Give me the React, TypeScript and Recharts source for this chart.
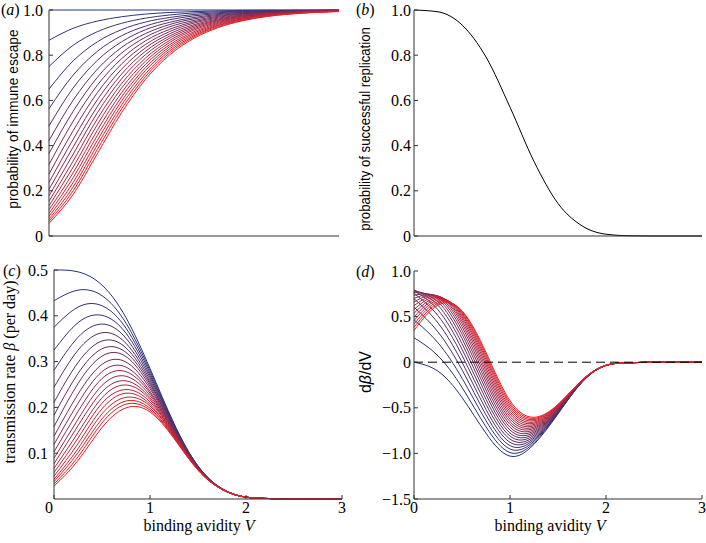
import React from 'react';
import { LineChart, Line, XAxis, YAxis, ReferenceLine } from 'recharts';

const avidity = [0, 0.25, 0.5, 0.75, 1, 1.25, 1.5, 1.75, 2, 2.25, 2.5, 3];

// (a) probability of immune escape, one row per curve (blue -> red)
const escapeCurves: number[][] = [
  [1, 1, 1, 1, 1, 1, 1, 1, 1, 1, 1, 1],
  [0.866, 0.919, 0.951, 0.970, 0.982, 0.989, 0.993, 0.996, 0.998, 0.999, 0.999, 1.0],
  [0.750, 0.844, 0.904, 0.941, 0.964, 0.978, 0.987, 0.992, 0.995, 0.997, 0.998, 0.999],
  [0.650, 0.775, 0.859, 0.913, 0.947, 0.967, 0.980, 0.988, 0.993, 0.996, 0.997, 0.999],
  [0.563, 0.712, 0.817, 0.886, 0.929, 0.957, 0.974, 0.984, 0.990, 0.994, 0.996, 0.999],
  [0.487, 0.655, 0.777, 0.859, 0.913, 0.946, 0.967, 0.980, 0.988, 0.993, 0.996, 0.998],
  [0.422, 0.601, 0.738, 0.834, 0.896, 0.936, 0.961, 0.976, 0.985, 0.991, 0.995, 0.998],
  [0.365, 0.552, 0.702, 0.809, 0.880, 0.926, 0.954, 0.972, 0.983, 0.990, 0.994, 0.998],
  [0.316, 0.508, 0.667, 0.784, 0.864, 0.915, 0.948, 0.968, 0.981, 0.988, 0.993, 0.997],
  [0.274, 0.466, 0.634, 0.761, 0.848, 0.905, 0.942, 0.964, 0.978, 0.987, 0.992, 0.997],
  [0.237, 0.428, 0.603, 0.738, 0.833, 0.895, 0.935, 0.960, 0.976, 0.985, 0.991, 0.997],
  [0.206, 0.394, 0.573, 0.716, 0.818, 0.885, 0.929, 0.956, 0.973, 0.984, 0.990, 0.996],
  [0.178, 0.362, 0.545, 0.695, 0.803, 0.876, 0.923, 0.953, 0.971, 0.982, 0.989, 0.996],
  [0.154, 0.332, 0.518, 0.674, 0.788, 0.866, 0.917, 0.949, 0.969, 0.981, 0.988, 0.996],
  [0.134, 0.305, 0.493, 0.654, 0.774, 0.857, 0.911, 0.945, 0.966, 0.979, 0.987, 0.995],
  [0.116, 0.280, 0.468, 0.634, 0.760, 0.847, 0.904, 0.941, 0.964, 0.978, 0.987, 0.995],
  [0.100, 0.258, 0.445, 0.615, 0.746, 0.838, 0.898, 0.937, 0.961, 0.976, 0.986, 0.995],
  [0.087, 0.237, 0.423, 0.597, 0.733, 0.829, 0.892, 0.933, 0.959, 0.975, 0.985, 0.994],
  [0.075, 0.217, 0.403, 0.579, 0.719, 0.820, 0.886, 0.930, 0.957, 0.974, 0.984, 0.994],
  [0.065, 0.200, 0.383, 0.562, 0.706, 0.811, 0.881, 0.926, 0.954, 0.972, 0.983, 0.994],
  [0.056, 0.184, 0.364, 0.545, 0.694, 0.802, 0.875, 0.922, 0.952, 0.971, 0.982, 0.993],
];

// (b) probability of successful replication
const replication = [1.0, 0.992, 0.934, 0.792, 0.57, 0.33, 0.144, 0.045, 0.008, 0.001, 0, 0];

// (c) transmission rate beta (per day)
const transmissionCurves: number[][] = [
  [0.500, 0.496, 0.467, 0.396, 0.285, 0.165, 0.072, 0.023, 0.004, 0.001, 0, 0],
  [0.433, 0.456, 0.444, 0.384, 0.280, 0.163, 0.072, 0.022, 0.004, 0.001, 0, 0],
  [0.375, 0.419, 0.422, 0.373, 0.275, 0.161, 0.071, 0.022, 0.004, 0.001, 0, 0],
  [0.325, 0.385, 0.401, 0.362, 0.270, 0.160, 0.071, 0.022, 0.004, 0.001, 0, 0],
  [0.281, 0.353, 0.382, 0.351, 0.265, 0.158, 0.070, 0.022, 0.004, 0.001, 0, 0],
  [0.244, 0.325, 0.363, 0.340, 0.260, 0.156, 0.070, 0.022, 0.004, 0.001, 0, 0],
  [0.211, 0.298, 0.345, 0.330, 0.255, 0.154, 0.069, 0.022, 0.004, 0.001, 0, 0],
  [0.183, 0.274, 0.328, 0.320, 0.251, 0.153, 0.069, 0.022, 0.004, 0.001, 0, 0],
  [0.158, 0.252, 0.312, 0.311, 0.246, 0.151, 0.068, 0.022, 0.004, 0.001, 0, 0],
  [0.137, 0.229, 0.294, 0.299, 0.241, 0.149, 0.068, 0.022, 0.004, 0.001, 0, 0],
  [0.119, 0.209, 0.278, 0.288, 0.235, 0.148, 0.067, 0.022, 0.004, 0.001, 0, 0],
  [0.103, 0.191, 0.263, 0.278, 0.231, 0.146, 0.067, 0.022, 0.004, 0.001, 0, 0],
  [0.089, 0.174, 0.248, 0.268, 0.226, 0.145, 0.066, 0.021, 0.004, 0.001, 0, 0],
  [0.077, 0.160, 0.234, 0.258, 0.221, 0.143, 0.066, 0.021, 0.004, 0.001, 0, 0],
  [0.067, 0.145, 0.221, 0.249, 0.217, 0.141, 0.066, 0.021, 0.004, 0.001, 0, 0],
  [0.058, 0.133, 0.209, 0.239, 0.212, 0.140, 0.065, 0.021, 0.004, 0.001, 0, 0],
  [0.050, 0.121, 0.197, 0.231, 0.207, 0.138, 0.065, 0.021, 0.004, 0.001, 0, 0],
  [0.043, 0.110, 0.186, 0.222, 0.203, 0.137, 0.064, 0.021, 0.004, 0.001, 0, 0],
  [0.038, 0.101, 0.175, 0.214, 0.198, 0.135, 0.064, 0.021, 0.004, 0.001, 0, 0],
  [0.033, 0.092, 0.166, 0.207, 0.194, 0.134, 0.063, 0.021, 0.004, 0.001, 0, 0],
  [0.028, 0.084, 0.156, 0.199, 0.190, 0.132, 0.063, 0.021, 0.004, 0.001, 0, 0],
];

// (d) d beta / dV
const slopeCurves: number[][] = [
  [0.000, -0.099, -0.387, -0.780, -1.030, -0.900, -0.567, -0.220, -0.035, -0.005, -0.001, 0],
  [0.268, 0.070, -0.276, -0.709, -0.991, -0.883, -0.561, -0.219, -0.035, -0.005, -0.001, 0],
  [0.464, 0.213, -0.175, -0.642, -0.952, -0.866, -0.556, -0.218, -0.035, -0.005, -0.001, 0],
  [0.603, 0.332, -0.083, -0.578, -0.915, -0.849, -0.550, -0.216, -0.035, -0.005, -0.001, 0],
  [0.696, 0.430, 0.000, -0.518, -0.879, -0.833, -0.545, -0.215, -0.035, -0.005, -0.001, 0],
  [0.754, 0.510, 0.076, -0.460, -0.844, -0.817, -0.539, -0.214, -0.035, -0.005, -0.001, 0],
  [0.784, 0.574, 0.143, -0.406, -0.810, -0.801, -0.534, -0.213, -0.035, -0.005, -0.001, 0],
  [0.791, 0.624, 0.204, -0.354, -0.777, -0.785, -0.528, -0.211, -0.035, -0.005, -0.001, 0],
  [0.783, 0.662, 0.259, -0.305, -0.744, -0.770, -0.523, -0.210, -0.035, -0.005, -0.001, 0],
  [0.763, 0.690, 0.308, -0.259, -0.713, -0.755, -0.517, -0.209, -0.034, -0.005, -0.001, 0],
  [0.734, 0.709, 0.351, -0.215, -0.682, -0.740, -0.512, -0.208, -0.034, -0.005, -0.001, 0],
  [0.700, 0.721, 0.389, -0.174, -0.653, -0.725, -0.507, -0.207, -0.034, -0.005, -0.001, 0],
  [0.661, 0.726, 0.423, -0.135, -0.624, -0.711, -0.502, -0.205, -0.034, -0.005, -0.001, 0],
  [0.620, 0.725, 0.452, -0.098, -0.596, -0.697, -0.497, -0.204, -0.034, -0.005, -0.001, 0],
  [0.579, 0.719, 0.477, -0.063, -0.569, -0.683, -0.492, -0.203, -0.034, -0.005, -0.001, 0],
  [0.537, 0.710, 0.499, -0.030, -0.543, -0.669, -0.487, -0.202, -0.034, -0.005, -0.001, 0],
  [0.496, 0.698, 0.518, 0.001, -0.517, -0.656, -0.482, -0.201, -0.034, -0.005, -0.001, 0],
  [0.456, 0.683, 0.533, 0.030, -0.492, -0.642, -0.477, -0.200, -0.034, -0.005, -0.001, 0],
  [0.418, 0.665, 0.546, 0.057, -0.468, -0.629, -0.472, -0.198, -0.033, -0.005, -0.001, 0],
  [0.382, 0.646, 0.556, 0.083, -0.445, -0.616, -0.467, -0.197, -0.033, -0.005, -0.001, 0],
  [0.349, 0.626, 0.564, 0.107, -0.422, -0.604, -0.462, -0.196, -0.033, -0.005, -0.001, 0],
];

const xTicks = [0, 1, 2, 3];
const probTicks = [0, 0.2, 0.4, 0.6, 0.8, 1];
const rateTicks = [0.1, 0.2, 0.3, 0.4, 0.5];
const slopeTicks = [-1.5, -1, -0.5, 0, 0.5, 1];

const SERIF = "'Liberation Serif', 'Times New Roman', serif";
const SANS = "'Liberation Sans', Arial, sans-serif";
const AXIS = '#333';
const BLUE = [38, 52, 128];
const RED = [232, 32, 38];

function curveColor(k: number, n: number): string {
  const t = n > 1 ? k / (n - 1) : 0;
  const c = BLUE.map((b, i) => Math.round(b + (RED[i] - b) * t));
  return `rgb(${c.join(',')})`;
}

function toRows(curves: number[][]) {
  return avidity.map((v, i) => {
    const row: Record<string, number> = { v };
    curves.forEach((c, k) => {
      row[`k${k}`] = c[i];
    });
    return row;
  });
}

function formatTick(value: number): string {
  if (value === 0) return '0';
  const s = Math.abs(value).toFixed(1);
  return value < 0 ? `\u2212${s}` : s;
}

// x tick label; the "0" at the origin of panel (c) sits a little to the left
function AvidityTick({ x, y, payload, shiftZero }: any) {
  const dx = shiftZero && payload.value === 0 ? -5 : 0;
  return (
    <text x={x + dx} y={y} dy="0.71em" textAnchor="middle" fill="#000" fontSize={16} style={{ fontFamily: SERIF }}>
      {payload.value}
    </text>
  );
}

function ValueTick({ x, y, payload }: any) {
  return (
    <text x={x} y={y} dy="0.355em" textAnchor="end" fill="#000" fontSize={16} style={{ fontFamily: SERIF }}>
      {formatTick(payload.value)}
    </text>
  );
}

function curveLines(curves: number[][], type: 'monotone' | 'natural') {
  return curves.map((_, k) => (
    <Line
      key={k}
      dataKey={`k${k}`}
      type={type}
      stroke={curveColor(k, curves.length)}
      strokeWidth={1}
      dot={false}
      activeDot={false}
      isAnimationActive={false}
    />
  ));
}

const escapeRows = toRows(escapeCurves);
const replicationRows = toRows([replication]);
const transmissionRows = toRows(transmissionCurves);
const slopeRows = toRows(slopeCurves);

export default function App() {
  return (
    <div style={{ position: 'absolute', left: 0, top: 0, width: 706, height: 543, background: '#fff', fontFamily: SERIF }}>
      {/* (a) */}
      <div style={{ position: 'absolute', left: 0, top: 0 }}>
        <LineChart width={353} height={260} data={escapeRows} margin={{ top: 10, right: 14, left: 0, bottom: 0 }}>
          <XAxis type="number" dataKey="v" domain={[0, 3]} ticks={xTicks} interval={0} height={24}
            axisLine={{ stroke: AXIS }} tickLine={{ stroke: AXIS }} tickSize={-4} tick={false} />
          <YAxis type="number" domain={[0, 1]} ticks={probTicks} interval={0} width={49}
            axisLine={{ stroke: AXIS }} tickLine={{ stroke: AXIS }} tickSize={-4} tickMargin={10}
            tick={(p: any) => <ValueTick {...p} />} />
          {curveLines(escapeCurves, 'monotone')}
        </LineChart>
      </div>

      {/* (b) */}
      <div style={{ position: 'absolute', left: 353, top: 0 }}>
        <LineChart width={353} height={260} data={replicationRows} margin={{ top: 10, right: 4, left: 0, bottom: 0 }}>
          <XAxis type="number" dataKey="v" domain={[0, 3]} ticks={xTicks} interval={0} height={24}
            axisLine={{ stroke: AXIS }} tickLine={{ stroke: AXIS }} tickSize={-4} tick={false} />
          <YAxis type="number" domain={[0, 1]} ticks={probTicks} interval={0} width={61}
            axisLine={{ stroke: AXIS }} tickLine={{ stroke: AXIS }} tickSize={-4} tickMargin={7}
            tick={(p: any) => <ValueTick {...p} />} />
          <Line dataKey="k0" type="monotone" stroke="#000" strokeWidth={1} dot={false} activeDot={false} isAnimationActive={false} />
        </LineChart>
      </div>

      {/* (c) */}
      <div style={{ position: 'absolute', left: 0, top: 260 }}>
        <LineChart width={353} height={283} data={transmissionRows} margin={{ top: 10, right: 11, left: 0, bottom: 0 }}>
          <XAxis type="number" dataKey="v" domain={[0, 3]} ticks={xTicks} interval={0} height={44}
            axisLine={{ stroke: AXIS }} tickLine={{ stroke: AXIS }} tickSize={-4} tickMargin={7}
            tick={(p: any) => <AvidityTick {...p} shiftZero />} />
          <YAxis type="number" domain={[0, 0.5]} ticks={rateTicks} interval={0} width={54}
            axisLine={{ stroke: AXIS }} tickLine={{ stroke: AXIS }} tickSize={-4} tickMargin={10}
            tick={(p: any) => <ValueTick {...p} />} />
          {curveLines(transmissionCurves, 'natural')}
        </LineChart>
      </div>

      {/* (d) */}
      <div style={{ position: 'absolute', left: 353, top: 260 }}>
        <LineChart width={353} height={283} data={slopeRows} margin={{ top: 11, right: 4, left: 0, bottom: 0 }}>
          <XAxis type="number" dataKey="v" domain={[0, 3]} ticks={xTicks} interval={0} height={44}
            axisLine={{ stroke: AXIS }} tickLine={{ stroke: AXIS }} tickSize={-4} tickMargin={7}
            tick={(p: any) => <AvidityTick {...p} />} />
          <YAxis type="number" domain={[-1.5, 1]} ticks={slopeTicks} interval={0} width={61}
            axisLine={{ stroke: AXIS }} tickLine={{ stroke: AXIS }} tickSize={-4} tickMargin={7}
            tick={(p: any) => <ValueTick {...p} />} />
          {curveLines(slopeCurves, 'natural')}
          <ReferenceLine y={0} stroke="#000" strokeWidth={1} strokeDasharray="9 5" />
        </LineChart>
      </div>

      {/* panel letters and axis titles */}
      <svg width={706} height={543} style={{ position: 'absolute', left: 0, top: 0, pointerEvents: 'none' }}>
        <g style={{ fontFamily: SERIF }} fontSize={16} fill="#000">
          <text x={1} y={15}>(<tspan fontStyle="italic">a</tspan>)</text>
          <text x={356} y={15}>(<tspan fontStyle="italic">b</tspan>)</text>
          <text x={3} y={276}>(<tspan fontStyle="italic">c</tspan>)</text>
          <text x={356} y={277}>(<tspan fontStyle="italic">d</tspan>)</text>
          <text x={199} y={531} textAnchor="middle">
            binding avidity <tspan fontStyle="italic">V</tspan>
          </text>
          <text x={550} y={531} textAnchor="middle">
            binding avidity <tspan fontStyle="italic">V</tspan>
          </text>
          <text transform="translate(15,372) rotate(-90)" textAnchor="middle">
            transmission rate <tspan fontStyle="italic">β</tspan> (per day)
          </text>
        </g>
        {/* narrow sans titles: Liberation Sans squeezed along the text direction */}
        <g style={{ fontFamily: SANS }} fontSize={15} fill="#000">
          <text transform="translate(18,119) rotate(-90) scale(0.92,1)" textAnchor="middle">
            probability of immune escape
          </text>
          <text transform="translate(370,129) rotate(-90) scale(0.88,1)" textAnchor="middle">
            probability of successful replication
          </text>
          <text transform="translate(371,372) rotate(-90)" textAnchor="middle" fontSize={16}>
            d<tspan fontStyle="italic">β</tspan>/dV
          </text>
        </g>
      </svg>
    </div>
  );
}
